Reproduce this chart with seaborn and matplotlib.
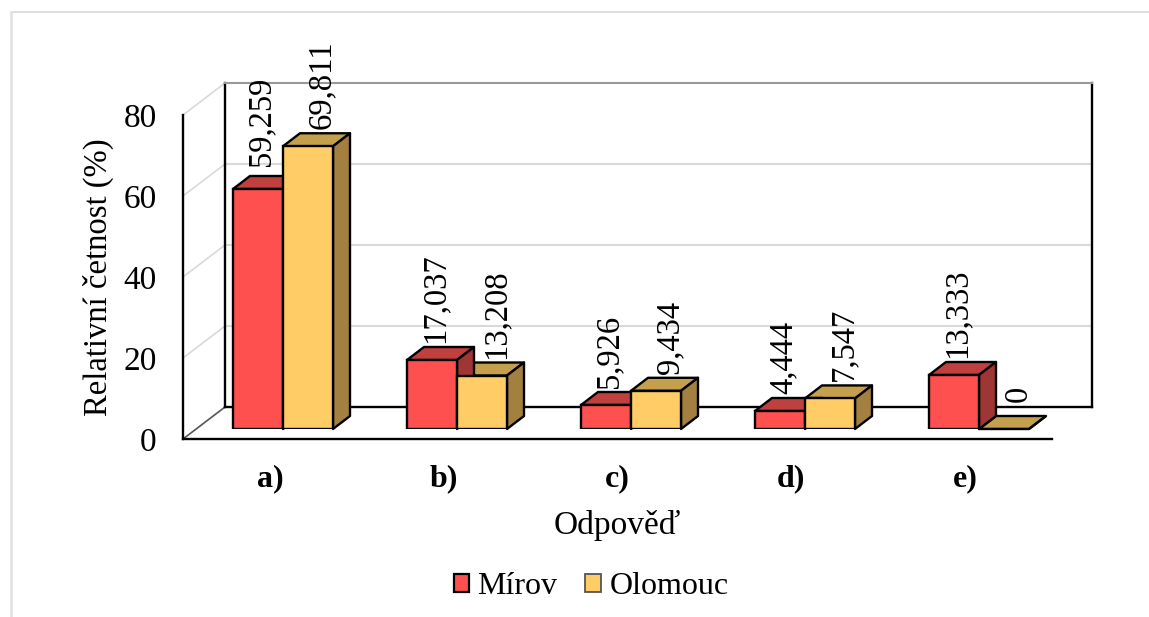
import pandas as pd
import matplotlib
matplotlib.use("Agg")
import matplotlib.pyplot as plt
import seaborn as sns
from matplotlib.lines import Line2D
from matplotlib.patches import Patch, Polygon

categories = ["a)", "b)", "c)", "d)", "e)"]
mirov = [59.259, 17.037, 5.926, 4.444, 13.333]
olomouc = [69.811, 13.208, 9.434, 7.547, 0]
mirov_labels = ["59,259", "17,037", "5,926", "4,444", "13,333"]
olomouc_labels = ["69,811", "13,208", "9,434", "7,547", "0"]
y_ticks = [0, 20, 40, 60, 80]

W, H = 1149, 617
FRONT_FACE = {"Mírov": "#FF5050", "Olomouc": "#FFCC66"}
TOP_FACE = {"Mírov": "#C04040", "Olomouc": "#C4A04D"}
SIDE_FACE = {"Mírov": "#A03535", "Olomouc": "#A38040"}
DEPTH_X, DEPTH_Y = 17, 13  # 3D depth in pixels
LABEL_DX = {"Mírov": 3, "Olomouc": 14}
LABEL_DY = {"59,259": 23, "0": 27}
LW = 1.7
SERIF = ["Liberation Serif", "DejaVu Serif"]


def rect(left, top, right, bottom):
    return [left / W, 1 - bottom / H, (right - left) / W, (bottom - top) / H]


def fig_line(fig, x, y, **kw):
    fig.add_artist(Line2D([v / W for v in x], [1 - v / H for v in y],
                          transform=fig.transFigure, **kw))


sns.set_theme(style="white")
plt.rcParams["font.family"] = SERIF
fig = plt.figure(figsize=(W / 100, H / 100), dpi=100)

# back wall
back = fig.add_axes(rect(225, 83, 1092, 407), zorder=1)
back.set_xlim(0, 1)
back.set_ylim(0, 80)
back.set_yticks(y_ticks[1:-1])
back.set_xticks([])
back.tick_params(left=False, labelleft=False)
back.grid(axis="y", color="#D9D9D9", lw=1.5)
for side in ["left", "right", "bottom"]:
    back.spines[side].set(color="black", lw=LW, visible=True)
back.spines["top"].set(color="#999999", lw=1.5, visible=True)

# front frame with the axis texts
front = fig.add_axes(rect(183, 115, 1052, 439), zorder=2)
front.patch.set_alpha(0)
front.set_xlim(-0.5, 4.5)
front.set_ylim(0, 80)
front.set_yticks(y_ticks)
front.set_xticks(range(len(categories)))
front.set_xticklabels(categories, fontweight="bold", fontsize=23)
front.tick_params(axis="x", bottom=False, pad=12, colors="black")
front.tick_params(axis="y", left=False, labelsize=24, pad=13, colors="black")
front.set_yticklabels([str(v) for v in y_ticks])
front.set_xlabel("Odpověď", fontsize=24, labelpad=12, color="black")
front.set_ylabel("Relativní četnost (%)", fontsize=23.5, color="black")
front.yaxis.set_label_coords((114 - 183) / (1052 - 183), 0.5)
for side in ["top", "right"]:
    front.spines[side].set_visible(False)
for side in ["left", "bottom"]:
    front.spines[side].set(color="black", lw=LW, visible=True)

# side wall lines
for v in y_ticks:
    y_f = 439 - v * (439 - 115) / 80
    y_b = 407 - v * (407 - 83) / 80
    color = "#555555" if v == 0 else "#D9D9D9"
    fig_line(fig, [183, 225], [y_f, y_b], color=color, lw=1.2, zorder=1)

# bars
df = pd.DataFrame({
    "odpoved": categories * 2,
    "mesto": ["Mírov"] * 5 + ["Olomouc"] * 5,
    "hodnota": mirov + olomouc,
})
ax = fig.add_axes(rect(183, 105, 1052, 429), zorder=3)
ax.patch.set_alpha(0)
sns.barplot(data=df, x="odpoved", y="hodnota", hue="mesto", palette=FRONT_FACE,
            width=100 / 174, gap=0, legend=False, ax=ax,
            edgecolor="black", linewidth=LW, saturation=1, errorbar=None)
ax.set_xlim((183 - 283) / 174, (1052 - 283) / 174)
ax.set_ylim(0, 80)
ax.axis("off")

px_x = 1 / 174
px_y = 80 / 324
dx, dy = DEPTH_X * px_x, DEPTH_Y * px_y

series = {"Mírov": (mirov_labels, 2), "Olomouc": (olomouc_labels, 1)}
bars = [b for b in ax.patches if b.get_width() > 0]
for name, start in zip(["Mírov", "Olomouc"], [0, 5]):
    labels, z = series[name]
    for bar, label in zip(bars[start:start + 5], labels):
        bar.set_zorder(3)
        x0, x1 = bar.get_x(), bar.get_x() + bar.get_width()
        h = bar.get_height()
        ax.add_patch(Polygon([(x0, h), (x1, h), (x1 + dx, h + dy), (x0 + dx, h + dy)],
                             closed=True, facecolor=TOP_FACE[name], edgecolor="black",
                             lw=LW, zorder=z, clip_on=False, joinstyle="round"))
        ax.add_patch(Polygon([(x1, 0), (x1 + dx, dy), (x1 + dx, h + dy), (x1, h)],
                             closed=True, facecolor=SIDE_FACE[name], edgecolor="black",
                             lw=LW, zorder=z, clip_on=False, joinstyle="round"))
        ax.annotate(label, (0.5 * (x0 + x1), h), rotation=90, ha="center", va="bottom",
                    xytext=(LABEL_DX[name] * 0.72, LABEL_DY.get(label, 17) * 0.72),
                    textcoords="offset points", fontsize=23.5, color="black",
                    annotation_clip=False, zorder=5)

# legend
handles = [Patch(facecolor=FRONT_FACE["Mírov"], edgecolor="black", lw=1.6, label="Mírov"),
           Patch(facecolor=FRONT_FACE["Olomouc"], edgecolor="#555555", lw=1.3, label="Olomouc")]
fig.legend(handles=handles, loc="center", bbox_to_anchor=(591 / W, 1 - 587 / H),
           ncol=2, frameon=False, fontsize=23, handlelength=0.5, handleheight=0.5,
           handletextpad=0.25, columnspacing=0.875, labelcolor="black")

# outer chart border
fig_line(fig, [11, W], [12, 12], color="#D9D9D9", lw=1.2)
fig_line(fig, [11, 11], [12, H], color="#E3E3E3", lw=2)

fig.savefig("out.png", dpi=100)
